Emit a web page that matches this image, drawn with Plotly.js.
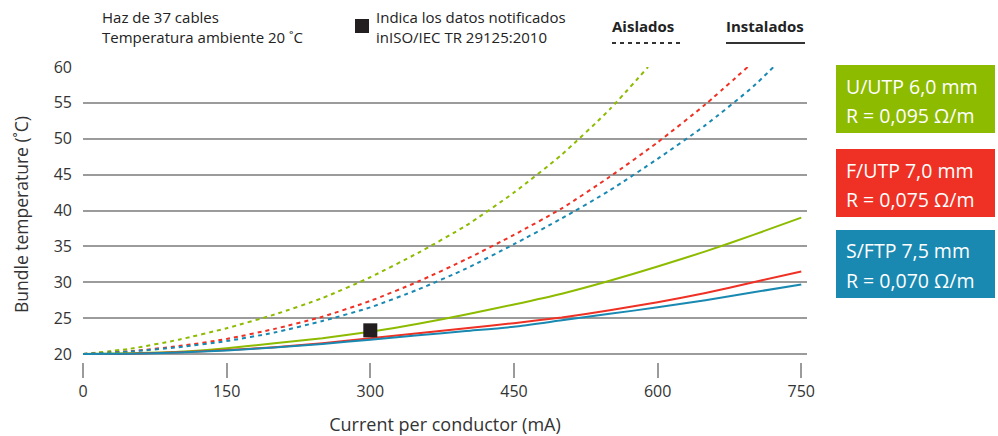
<!DOCTYPE html>
<html>
<head>
<meta charset="utf-8">
<script src="https://cdn.plot.ly/plotly-3.0.1.min.js"></script>
<style>html,body{margin:0;padding:0;background:#fff;}#chart{width:998px;height:436px;}</style>
</head>
<body>
<div id="chart"></div>
<script>
// ---- data ----
const current = [0,50,100,150,200,250,300,350,400,450,500,550,600,650,700,750];
const uutpInstalled = [20,20.1,20.3,20.8,21.5,22.2,23.1,24.2,25.5,26.9,28.4,30.2,32.2,34.3,36.6,39.0];
const futpInstalled = [20,20.05,20.25,20.55,20.95,21.5,22.2,22.9,23.6,24.3,25.1,26.1,27.2,28.5,30.0,31.5];
const sftpInstalled = [20,20.05,20.2,20.5,20.9,21.4,22.0,22.6,23.2,23.8,24.7,25.6,26.5,27.5,28.6,29.7];

const uutpIsolatedCurrent = [0,50,100,150,200,250,300,350,400,450,500,550,590];
const uutpIsolated = [20,20.75,22.0,23.6,25.5,27.8,30.7,34.1,37.9,42.5,47.8,54.1,60];
const futpIsolatedCurrent = [0,50,100,150,200,250,300,350,400,450,500,550,600,650,694];
const futpIsolated = [20,20.4,21.1,22.1,23.5,25.2,27.4,30.1,33.2,36.6,40.3,44.7,49.5,54.8,60];
const sftpIsolatedCurrent = [0,50,100,150,200,250,300,350,400,450,500,550,600,650,700,721];
const sftpIsolated = [20,20.35,20.95,21.8,23.0,24.6,26.5,29.0,31.9,35.3,38.9,42.8,47.2,51.9,57.3,60];

const reportedCurrent = [300];
const reportedTemp = [23.3];

const xTicks = [0,150,300,450,600,750];
const yTicks = [20,25,30,35,40,45,50,55,60];

const GREEN = '#8dbb00', RED = '#ee3124', BLUE = '#1989b2';

// ---- layout helpers (pixel -> paper) ----
const L = 83, R = 807, T = 67, B = 362;
const px = x => (x - L) / (R - L);
const py = y => (B - y) / (B - T);

function line(x, y, color, dash) {
  return {x, y, type: 'scatter', mode: 'lines', hoverinfo: 'skip',
    line: {color, width: 2, dash: dash ? '4px,4px' : 'solid', shape: 'spline', smoothing: 0.6}};
}

const traces = [
  line(uutpIsolatedCurrent, uutpIsolated, GREEN, true),
  line(futpIsolatedCurrent, futpIsolated, RED, true),
  line(sftpIsolatedCurrent, sftpIsolated, BLUE, true),
  line(current, uutpInstalled, GREEN, false),
  line(current, futpInstalled, RED, false),
  line(current, sftpInstalled, BLUE, false),
  {x: reportedCurrent, y: reportedTemp, type: 'scatter', mode: 'markers', hoverinfo: 'skip',
   marker: {symbol: 'square', size: 14, color: '#231f20'}, cliponaxis: false}
];

const txtFont = {family: 'Open Sans, DejaVu Sans, sans-serif', size: 15, color: '#222'};
const boxFont = {family: 'Open Sans, DejaVu Sans, sans-serif', size: 19.5, color: '#fff'};

function ann(text, x, y, font, xanchor) {
  return {text, x: px(x), y: py(y), xref: 'paper', yref: 'paper', showarrow: false,
    xanchor: xanchor || 'left', yanchor: 'middle', font};
}

const boxes = [
  {y0: 65, y1: 133, color: GREEN, l1: 'U/UTP 6,0 mm', l2: 'R = 0,095 Ω/m'},
  {y0: 149, y1: 217, color: RED, l1: 'F/UTP 7,0 mm', l2: 'R = 0,075 Ω/m'},
  {y0: 230, y1: 298, color: BLUE, l1: 'S/FTP 7,5 mm', l2: 'R = 0,070 Ω/m'}
];

const shapes = [
  {type: 'line', xref: 'paper', yref: 'paper', x0: px(612), x1: px(684), y0: py(43), y1: py(43),
   line: {color: '#333', width: 2, dash: '4px,4px'}},
  {type: 'line', xref: 'paper', yref: 'paper', x0: px(726), x1: px(805), y0: py(43), y1: py(43),
   line: {color: '#333', width: 2}},
  {type: 'rect', xref: 'paper', yref: 'paper', x0: px(355), x1: px(369), y0: py(33), y1: py(19),
   fillcolor: '#231f20', line: {width: 0}}
];
const annotations = [
  ann('Haz de 37 cables', 100, 17, txtFont),
  ann('Temperatura ambiente 20 ˚C', 100, 37, txtFont),
  ann('Indica los datos notificados', 374, 17, txtFont),
  ann('inISO/IEC TR 29125:2010', 374, 37, txtFont),
  ann('<b>Aislados</b>', 610, 26, txtFont),
  ann('<b>Instalados</b>', 724, 26, txtFont)
];
boxes.forEach(b => {
  shapes.push({type: 'rect', xref: 'paper', yref: 'paper', x0: px(836), x1: px(995),
    y0: py(b.y1), y1: py(b.y0), fillcolor: b.color, line: {width: 0}});
  annotations.push(ann(b.l1, 844, b.y0 + 21, boxFont));
  annotations.push(ann(b.l2, 844, b.y0 + 50, boxFont));
});

const layout = {
  width: 998, height: 436,
  margin: {l: L, r: 998 - R, t: T, b: 436 - B, pad: 0},
  paper_bgcolor: '#fff', plot_bgcolor: '#fff',
  showlegend: false,
  font: {family: 'Open Sans, DejaVu Sans, sans-serif', color: '#333'},
  xaxis: {range: [0, 756], showgrid: false, zeroline: false, showline: false,
    tickvals: xTicks, ticktext: xTicks.map(String), ticks: 'outside', ticklen: 15, tickwidth: 2,
    tickcolor: '#9b9b9b', tickfont: {size: 16, color: '#333'},
    title: {text: 'Current per conductor (mA)', font: {size: 18, color: '#333'}, standoff: 22}},
  yaxis: {range: [18.885, 60], showgrid: true, gridcolor: '#9b9b9b', gridwidth: 2, zeroline: false,
    showline: false, tickvals: yTicks, ticks: '', ticklabelstandoff: 10,
    tickfont: {size: 16, color: '#333'},
    title: {text: 'Bundle temperature (˚C)', font: {size: 17.5, color: '#333'}, standoff: 20}},
  shapes, annotations
};

Plotly.newPlot('chart', traces, layout, {staticPlot: true, displayModeBar: false});
</script>
</body>
</html>
